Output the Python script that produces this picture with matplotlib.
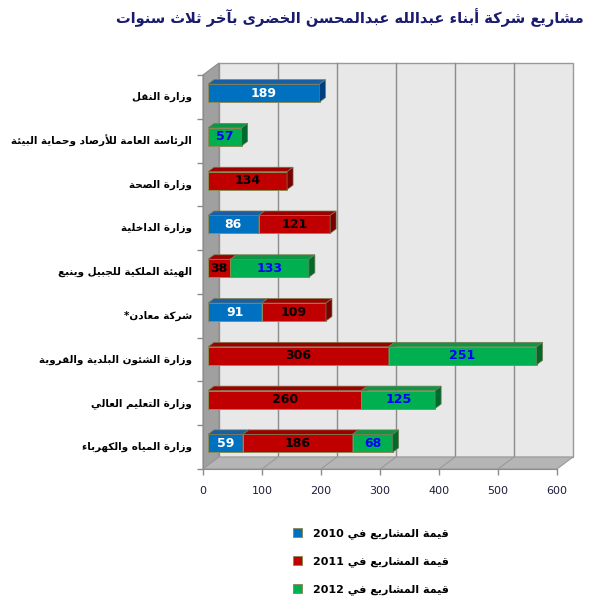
import re
import numpy as np
import matplotlib
matplotlib.use("Agg")
import matplotlib.pyplot as plt
from matplotlib.patches import Polygon, Rectangle

title = "مشاريع شركة أبناء عبدالله عبدالمحسن الخضرى بآخر ثلاث سنوات"
categories = [
    "وزارة النقل",
    "الرئاسة العامة للأرصاد وحماية البيئة",
    "وزارة الصحة",
    "وزارة الداخلية",
    "الهيئة الملكية للجبيل وينبع",
    "شركة معادن*",
    "وزارة الشئون البلدية والقروية",
    "وزارة التعليم العالي",
    "وزارة المياه والكهرباء",
]
v2010 = [189, 0, 0, 86, 0, 91, 0, 0, 59]
v2011 = [0, 0, 134, 121, 38, 109, 306, 260, 186]
v2012 = [0, 57, 0, 0, 133, 0, 251, 125, 68]
series_names = ["قيمة المشاريع في 2010", "قيمة المشاريع في 2011", "قيمة المشاريع في 2012"]
xticks = [0, 100, 200, 300, 400, 500, 600]

# --- tiny arabic shaper (matplotlib has no complex text layout) ---
FORMS = {}
for ch, base in zip("آأؤإاةدذرزوى", [0xFE81, 0xFE83, 0xFE85, 0xFE87, 0xFE8D, 0xFE93, 0xFEA9,
                                       0xFEAB, 0xFEAD, 0xFEAF, 0xFEED, 0xFEEF]):
    FORMS[ch] = (chr(base), chr(base + 1))
for ch, base in zip("ئبتثجحخسشصضطظعغفقكلمنهي",
                    [0xFE89, 0xFE8F, 0xFE95, 0xFE99, 0xFE9D, 0xFEA1, 0xFEA5, 0xFEB1, 0xFEB5,
                     0xFEB9, 0xFEBD, 0xFEC1, 0xFEC5, 0xFEC9, 0xFECD, 0xFED1, 0xFED5, 0xFED9,
                     0xFEDD, 0xFEE1, 0xFEE5, 0xFEE9, 0xFEF1]):
    FORMS[ch] = tuple(chr(base + i) for i in range(4))
LAM_ALEF = {"لآ": 0xFEF5, "لأ": 0xFEF7, "لإ": 0xFEF9, "لا": 0xFEFB}
for pair, base in LAM_ALEF.items():
    FORMS[pair] = (chr(base), chr(base + 1))


def ar(text):
    chars, i = [], 0
    while i < len(text):
        if text[i:i + 2] in LAM_ALEF:
            chars.append(text[i:i + 2])
            i += 2
        else:
            chars.append(text[i])
            i += 1
    out = []
    for i, c in enumerate(chars):
        forms = FORMS.get(c)
        if forms is None:
            out.append(c)
            continue
        prev = chars[i - 1] if i > 0 else ""
        nxt = chars[i + 1] if i + 1 < len(chars) else ""
        jp = len(FORMS.get(prev, ())) == 4
        jn = len(forms) == 4 and nxt in FORMS
        out.append(forms[{(0, 0): 0, (1, 0): 1, (0, 1): 2, (1, 1): 3}[(jp, jn)]])
    s = "".join(out)[::-1]
    return re.sub(r"[0-9]+", lambda m: m.group(0)[::-1], s)


plt.rcParams['font.family'] = ['DejaVu Sans']

fig = plt.figure(figsize=(5.98, 6.08), dpi=100)
ax = fig.add_axes([203 / 598, 139 / 608, 354 / 598, 394 / 608])
ax.set_xlim(0, 600)
ax.set_ylim(0, 9)
ax.patch.set_alpha(0)

n = len(categories)
DX, DY = 16 / 0.59, 12 / 43.78      # depth of the 3d box in data units
d0, t = 0.3125, 0.375               # bar position / thickness along depth

# walls and floor
ax.add_patch(Rectangle((DX, DY), 600, n, fc="#E8E8E8", ec="#9A9A9A", lw=1, zorder=0, clip_on=False))
ax.add_patch(Polygon([(0, 0), (DX, DY), (DX, n + DY), (0, n)], fc="#A0A0A0", ec="#8A8A8A",
                     lw=0.8, zorder=0.5, clip_on=False))
ax.add_patch(Polygon([(0, 0), (600, 0), (600 + DX, DY), (DX, DY)], fc="#B5B5B5", ec="#9A9A9A",
                     lw=0.8, zorder=0.5, clip_on=False))
for v in xticks[1:-1]:
    ax.plot([v + DX, v + DX], [DY, n + DY], color="#8C8C8C", lw=1, zorder=0.2, clip_on=False)
    ax.plot([v, v + DX], [0, DY], color="#999999", lw=0.8, zorder=0.6, clip_on=False)

ycent = n - 0.5 - np.arange(n)
colors = [("#0070C0", "#195FA5", "#003E7E"),
          ("#C00000", "#9E0000", "#780000"),
          ("#00B050", "#0B9746", "#006A2E")]
txtcol = ["white", "black", "#0000FF"]
h = 0.41
left = np.zeros(n)
for vals, name, (cf, ct, cr), tc in zip([v2010, v2011, v2012], series_names, colors, txtcol):
    vals = np.array(vals, dtype=float)
    m = vals > 0
    bars = ax.barh(ycent[m] + d0 * DY, vals[m], height=h, left=left[m] + d0 * DX, color=cf,
                   edgecolor="#8C8C5A", lw=0.7, label=ar(name), zorder=3, clip_on=False)
    for b, v in zip(bars, vals[m]):
        x0, y0, w = b.get_x(), b.get_y(), b.get_width()
        x1, y1 = x0 + w, y0 + h
        ax.add_patch(Polygon([(x0, y1), (x1, y1), (x1 + t * DX, y1 + t * DY), (x0 + t * DX, y1 + t * DY)],
                             fc=ct, ec="#7A7A50", lw=0.5, zorder=3, clip_on=False))
        ax.add_patch(Polygon([(x1, y0), (x1, y1), (x1 + t * DX, y1 + t * DY), (x1 + t * DX, y0 + t * DY)],
                             fc=cr, ec="#7A7A50", lw=0.5, zorder=3, clip_on=False))
        ax.text(x0 + w / 2, y0 + h / 2, f"{v:.0f}", ha="center", va="center", color=tc,
                fontsize=9, fontweight="bold", zorder=5)
    left = left + vals

# category labels
for y, c in zip(ycent, categories):
    ax.text(-18.6, y, ar(c), ha="right", va="center", fontsize=7.5, fontweight="bold", color="black")

ax.set_xticks(xticks)
ax.set_yticks(np.arange(n + 1))
ax.set_yticklabels([])
ax.tick_params(axis="both", direction="out", length=4, color="#8C8C8C", width=1,
               labelsize=8, labelcolor="#1E1E3C")
ax.tick_params(axis="x", pad=8)
for s in ["top", "right"]:
    ax.spines[s].set_visible(False)
for s in ["left", "bottom"]:
    ax.spines[s].set_color("#8C8C8C")

fig.text(350 / 598, 1 - 18 / 608, ar(title), ha="center", va="center", fontsize=10.5,
         fontweight="bold", color="#1A1A6E")

fig.legend(loc="upper left", bbox_to_anchor=(283 / 598, 1 - 518 / 608), frameon=False,
           prop={"size": 8, "weight": "bold"}, handlelength=0.8, handleheight=0.8,
           handletextpad=1.0, labelspacing=1.55)

fig.savefig("out.png", dpi=100, facecolor="white")
